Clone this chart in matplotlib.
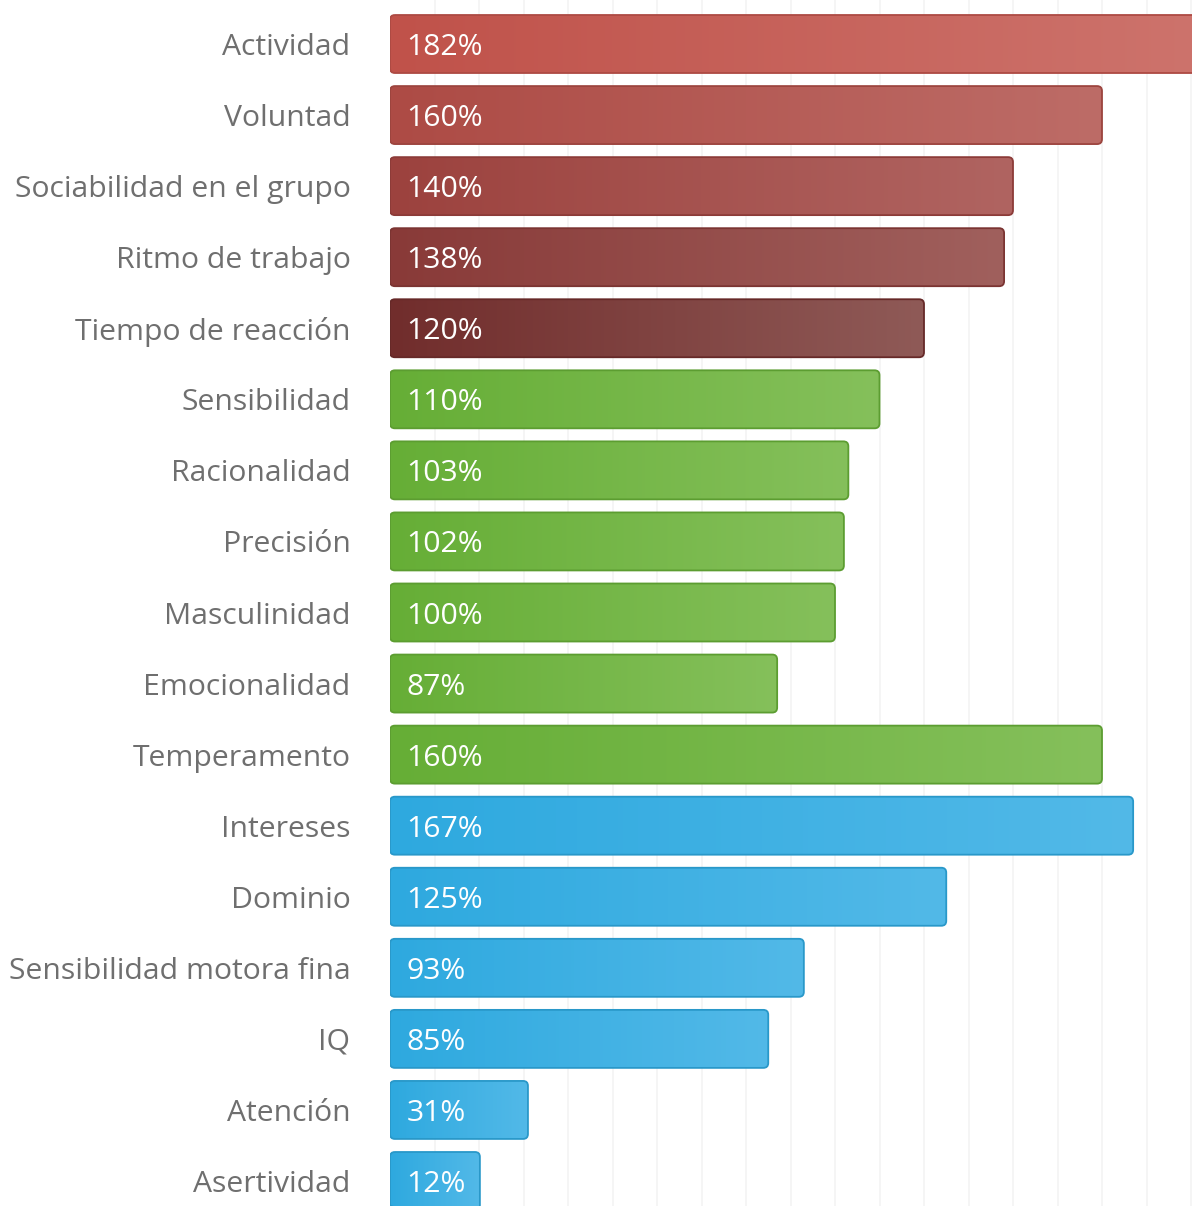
import numpy as np
import matplotlib
matplotlib.use("Agg")
import matplotlib.pyplot as plt
from matplotlib.patches import FancyBboxPatch
from matplotlib.colors import to_rgb

categories = ["Actividad", "Voluntad", "Sociabilidad en el grupo", "Ritmo de trabajo",
              "Tiempo de reacción", "Sensibilidad", "Racionalidad", "Precisión",
              "Masculinidad", "Emocionalidad", "Temperamento", "Intereses", "Dominio",
              "Sensibilidad motora fina", "IQ", "Atención", "Asertividad"]
values = [182, 160, 140, 138, 120, 110, 103, 102, 100, 87, 160, 167, 125, 93, 85, 31, 12]

red_left = ["#c0524a", "#ad4b45", "#9c423e", "#893a38", "#712d2c"]
red_right = ["#cd736c", "#bd6c67", "#b06461", "#a0605d", "#8f5a57"]
green_left, green_right = "#66ae36", "#85c05b"
blue_left, blue_right = "#2ea9df", "#52b9e8"
left_colors = red_left + [green_left] * 6 + [blue_left] * 6
right_colors = red_right + [green_right] * 6 + [blue_right] * 6

plt.rcParams['font.family'] = ['Open Sans', 'DejaVu Sans']

W, H = 1192, 1206
fig = plt.figure(figsize=(W / 100, H / 100), dpi=100)
px_per_unit = 4.45
ax = fig.add_axes([390 / W, 0, (W - 390) / W, 1])
xmax = (W - 390) / px_per_unit
pitch = 71.06

for s in ax.spines.values():
    s.set_visible(False)
ax.set_xticks(np.arange(10, 190, 10))
ax.tick_params(axis='x', length=0, labelbottom=False)
ax.grid(axis='x', color='#f3f3f3', linewidth=1.2, zorder=0)
ax.set_axisbelow(True)

ypos = np.arange(len(categories))
ax.set_yticks(ypos)
ax.set_yticklabels(categories, fontsize=21.7, color='#6f6f6f')
ax.tick_params(axis='y', length=0, pad=28.5)
for lab in ax.get_yticklabels():
    lab.set_verticalalignment('center_baseline')

bar_h = 58 / pitch
min_w = 20.2
grad = np.linspace(0, 1, 256)
for i, (v, lc, rc) in enumerate(zip(values, left_colors, right_colors)):
    w = max(v, min_w)
    y0 = i - bar_h / 2
    c1, c2 = np.array(to_rgb(lc)), np.array(to_rgb(rc))
    img = (c1[None, :] * (1 - grad[:, None]) + c2[None, :] * grad[:, None])[None, :, :]
    patch = FancyBboxPatch((0, y0), w, bar_h,
                           boxstyle="round,pad=0,rounding_size=1.1",
                           mutation_aspect=px_per_unit / pitch,
                           facecolor='none', edgecolor=np.clip(c1 * 0.9, 0, 1),
                           linewidth=1.3, zorder=3)
    ax.add_patch(patch)
    im = ax.imshow(img, extent=[0, w, y0 + bar_h, y0], aspect='auto',
                   interpolation='bilinear', zorder=2)
    im.set_clip_path(patch)
    ax.text(16.5 / px_per_unit, i, f"{v}%", color='white', fontsize=21.7,
            va='center_baseline', ha='left', zorder=4)

ax.set_xlim(0, xmax)
ax.set_ylim(16 + 25 / pitch, -44 / pitch)
fig.savefig("out.png", dpi=100)
